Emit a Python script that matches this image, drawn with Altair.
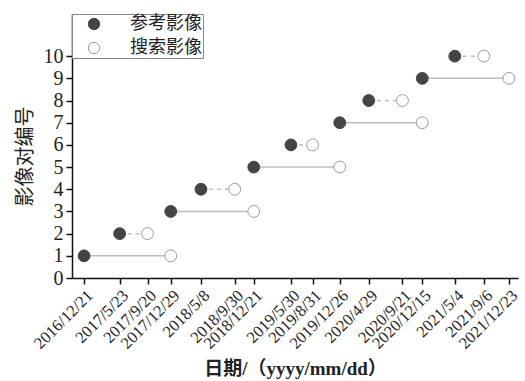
import altair as alt
import pandas as pd

pair_ids = [1, 2, 3, 4, 5, 6, 7, 8, 9, 10]
ref_dates = ["2016-12-21", "2017-05-23", "2017-12-29", "2018-05-08", "2018-12-21",
             "2019-05-30", "2019-12-26", "2020-04-29", "2020-12-15", "2021-05-04"]
search_dates = ["2017-12-29", "2017-09-20", "2018-12-21", "2018-09-30", "2019-12-26",
                "2019-08-31", "2020-12-15", "2020-09-21", "2021-12-23", "2021-09-06"]
link_styles = ["solid", "dashed", "solid", "dashed", "solid",
               "dashed", "solid", "dashed", "solid", "dashed"]
tick_dates = ["2016-12-21", "2017-05-23", "2017-09-20", "2017-12-29", "2018-05-08",
              "2018-09-30", "2018-12-21", "2019-05-30", "2019-08-31", "2019-12-26",
              "2020-04-29", "2020-09-21", "2020-12-15", "2021-05-04", "2021-09-06",
              "2021-12-23"]
kinds = ["参考影像", "搜索影像"]
x_domain = ["2016-10-30", "2022-01-31"]

def dt(s):
    y, m, d = [int(v) for v in s.split("-")]
    return alt.DateTime(year=y, month=m, date=d, utc=True)

pts = pd.DataFrame({
    "id": pair_ids + pair_ids,
    "date": ref_dates + search_dates,
    "kind": [kinds[0]] * len(pair_ids) + [kinds[1]] * len(pair_ids),
})
links = pd.DataFrame({"id": pair_ids, "start": ref_dates, "end": search_dates, "style": link_styles})

serif = "Times New Roman, Liberation Serif, DejaVu Serif, serif"
cjk = "Noto Sans CJK SC"
mixed = "Times New Roman, Liberation Serif, Noto Sans CJK SC, serif"

xscale = alt.Scale(type="utc", domain=[dt(x_domain[0]), dt(x_domain[1])], nice=False)
xaxis = alt.Axis(
    values=[dt(t) for t in tick_dates],
    labelExpr="utcFormat(datum.value, '%Y/%-m/%-d')",
    labelAngle=-45, labelAlign="right", labelBaseline="top",
    labelFont=serif, labelFontSize=16.5, labelColor="#222", labelPadding=3,
    labelOverlap=False, labelBound=False, labelFlush=False,
    title="日期/（yyyy/mm/dd）", titleFont=mixed, titleFontSize=19,
    titleFontWeight="bold", titleColor="#222", titlePadding=8,
    grid=False, domainColor="#111", domainWidth=1.5, tickColor="#111",
    tickWidth=1.5, tickSize=6,
)
yscale = alt.Scale(domain=[0, 11.9], nice=False, zero=True)
yaxis = alt.Axis(
    values=list(range(11)), format="d",
    labelFont=serif, labelFontSize=20, labelColor="#222", labelPadding=3,
    title="影像对编号", titleFont=cjk, titleFontSize=20, titleFontWeight="normal",
    titleColor="#222", titlePadding=8, titleY=142,
    grid=False, domainColor="#111", domainWidth=1.5, tickColor="#111",
    tickWidth=1.5, tickSize=6,
)

rules = alt.Chart(links).mark_rule(color="#bdbdbd", strokeWidth=1.5).encode(
    x=alt.X("start:T", scale=xscale, axis=xaxis),
    x2="end:T",
    y=alt.Y("id:Q", scale=yscale, axis=yaxis),
    strokeDash=alt.StrokeDash("style:N", scale=alt.Scale(domain=["solid", "dashed"], range=[[1, 0], [4, 4]]), legend=None),
)

legend = alt.Legend(
    title=None, orient="none", legendX=0, legendY=0,
    labelFont=cjk, labelFontSize=18, labelColor="#222", labelLimit=300,
    symbolSize=130, symbolStrokeWidth=1, padding=1, rowPadding=6,
    labelOffset=27, strokeColor="#888", fillColor="white", symbolOffset=12,
)

points = alt.Chart(pts).mark_point(shape="circle", size=140, strokeWidth=1, opacity=1, fillOpacity=1, filled=False).encode(
    x=alt.X("date:T", scale=xscale, axis=xaxis),
    y=alt.Y("id:Q", scale=yscale, axis=yaxis),
    fill=alt.Fill("kind:N", scale=alt.Scale(domain=kinds, range=["#444444", "#ffffff"]), legend=legend),
    stroke=alt.Stroke("kind:N", scale=alt.Scale(domain=kinds, range=["#444444", "#9a9a9a"]), legend=legend),
)

chart = alt.layer(rules, points).properties(
    width=446, height=264,
    autosize=alt.AutoSizeParams(type="none"),
    padding={"left": 72, "top": 14, "right": 7, "bottom": 103},
    background="white",
).configure_view(stroke=None)

chart.save("out.html", embed_options={"renderer": "svg", "actions": False})
